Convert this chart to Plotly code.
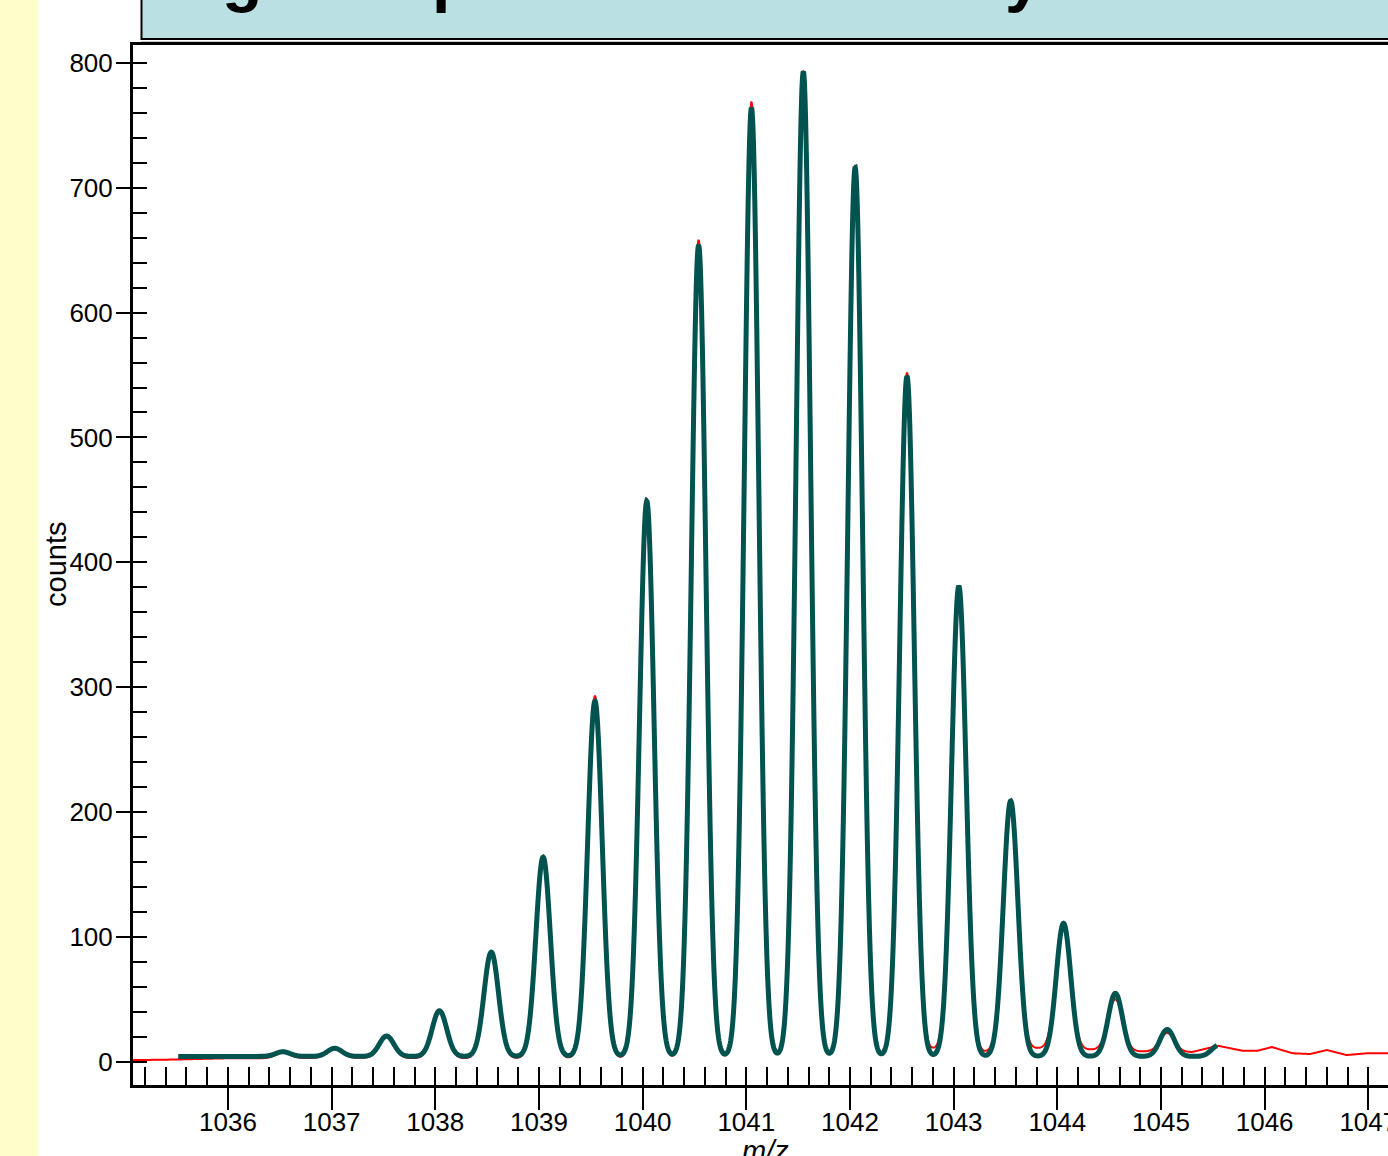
import numpy as np
import plotly.graph_objects as go

# ---------------- data ----------------
# isotope peak centres (m/z) of the charge-2 envelope
peak_mz = [1036.53, 1037.03, 1037.53, 1038.04, 1038.54, 1039.04, 1039.54,
           1040.04, 1040.54, 1041.05, 1041.55, 1042.05, 1042.55, 1043.05,
           1043.55, 1044.06, 1044.56, 1045.06, 1045.56]
# fitted (teal) peak heights above the fit baseline
fit_heights = [3.7, 6.5, 16.3, 36.5, 83.5, 159.5, 284.5, 444.5, 649.5, 759.5,
               788.5, 711.5, 544.5, 376.5, 204.5, 106.5, 50.5, 21.5, 9.0]
fit_baseline = 4.5
fit_range = [1035.52, 1045.54]
# measured (red) peak heights above the local baseline (last peak is in the tail)
data_heights = [4.5, 7.0, 17.0, 38.0, 85.0, 161.0, 290.0, 448.0, 655.0, 765.0,
                790.0, 714.0, 545.0, 372.0, 199.0, 100.0, 41.0, 15.0, 0.0]
# measured baseline / noise read at these m/z values
base_mz = [1035.08, 1035.5, 1036.0, 1036.5, 1037.0, 1038.0, 1039.0, 1040.0,
           1041.0, 1042.0, 1042.4, 1042.8, 1043.3, 1043.8, 1044.3, 1044.8,
           1045.3, 1045.55, 1045.79, 1045.93, 1046.07, 1046.27, 1046.44,
           1046.60, 1046.79, 1046.99, 1047.19]
base_counts = [1.5, 2.0, 3.0, 3.0, 3.5, 3.0, 3.0, 3.0, 3.5, 4.0, 5.0, 10.0,
               8.0, 11.0, 10.0, 8.5, 8.0, 13.0, 9.0, 9.0, 12.0, 7.0, 6.4,
               9.6, 5.6, 7.0, 7.0]
peak_sigma = 0.07

x_ticks = [1036, 1037, 1038, 1039, 1040, 1041, 1042, 1043, 1044, 1045, 1046, 1047]
y_ticks = [0, 100, 200, 300, 400, 500, 600, 700, 800]

# ---------------- profiles ----------------
def profile(x, heights):
    y = np.zeros_like(x)
    for c, h in zip(peak_mz, heights):
        y += h * np.exp(-0.5 * ((x - c) / peak_sigma) ** 2)
    return y

x_data = np.linspace(base_mz[0], base_mz[-1], 3000)
y_data = profile(x_data, data_heights) + np.interp(x_data, base_mz, base_counts)

x_fit = np.linspace(fit_range[0], fit_range[1], 2500)
y_fit = profile(x_fit, fit_heights) + fit_baseline

# ---------------- layout geometry (pixels) ----------------
FW, FH = 1388, 1156
L, T, B = 133, 45, 71
PW, PH = FW - L, FH - T - B
XR = [1035.084, 1047.19]
YR = [-18.4, 814.2]

def pxx(px):
    return (px - L) / PW

def pxy(py):
    return (FH - B - py) / PH

tick_font = dict(family="Liberation Sans Narrow, Arial Narrow, Liberation Sans, Arial, sans-serif",
                 size=26, color="black")
title_font = dict(family="Liberation Sans, Arial, sans-serif", size=29, color="black")

fig = go.Figure()
fig.add_trace(go.Scatter(x=x_data, y=y_data, mode="lines",
                         line=dict(color="#ff0000", width=2, simplify=False),
                         hoverinfo="skip"))
fig.add_trace(go.Scatter(x=x_fit, y=y_fit, mode="lines",
                         line=dict(color="#00534f", width=5, simplify=False),
                         hoverinfo="skip"))
# dummy trace to activate the overlay axes (inner major ticks)
fig.add_trace(go.Scatter(x=[XR[0]], y=[YR[0]], xaxis="x2", yaxis="y2",
                         mode="markers", marker=dict(opacity=0), hoverinfo="skip"))

fig.update_layout(
    width=FW, height=FH, autosize=False,
    margin=dict(l=L, r=0, t=T, b=B, pad=0, autoexpand=False),
    paper_bgcolor="white", plot_bgcolor="white",
    showlegend=False, hovermode=False,
    xaxis=dict(range=XR, showgrid=False, zeroline=False, automargin=False,
               showline=True, linewidth=3, linecolor="black", mirror=True,
               ticks="outside", ticklen=22, tickwidth=2, tickcolor="black",
               tickvals=x_ticks, ticktext=[str(v) for v in x_ticks],
               tickfont=tick_font, ticklabelstandoff=-10,
               ticklabeloverflow="allow",
               minor=dict(ticks="inside", ticklen=18, tickwidth=2,
                          tickcolor="black", dtick=0.2, tick0=1036)),
    yaxis=dict(range=YR, showgrid=False, zeroline=False, automargin=False,
               showline=True, linewidth=3, linecolor="black",
               ticks="outside", ticklen=14, tickwidth=2, tickcolor="black",
               tickvals=y_ticks, ticktext=[str(v) for v in y_ticks],
               tickfont=tick_font, ticklabelstandoff=-2,
               minor=dict(ticks="inside", ticklen=14, tickwidth=2,
                          tickcolor="black", dtick=20, tick0=0)),
    xaxis2=dict(range=XR, overlaying="x", anchor="y2", side="bottom",
                showgrid=False, zeroline=False, showline=False, automargin=False,
                ticks="inside", ticklen=18, tickwidth=2, tickcolor="black",
                tickvals=x_ticks, showticklabels=False),
    yaxis2=dict(range=YR, overlaying="y", anchor="x2", side="left",
                showgrid=False, zeroline=False, showline=False, automargin=False,
                ticks="inside", ticklen=14, tickwidth=2, tickcolor="black",
                tickvals=y_ticks, showticklabels=False),
)

shapes = [
    dict(type="rect", xref="paper", yref="paper",
         x0=pxx(-5), x1=pxx(38), y0=pxy(FH + 5), y1=pxy(-5),
         fillcolor="#ffffcc", line=dict(width=0), layer="below"),
    dict(type="rect", xref="paper", yref="paper",
         x0=pxx(141.5), x1=pxx(FW + 30), y0=pxy(39), y1=pxy(-30),
         fillcolor="#bbe0e3", line=dict(color="black", width=2), layer="below"),
    dict(type="line", xref="paper", yref="paper",
         x0=pxx(141), x1=pxx(FW + 5), y0=pxy(41.5), y1=pxy(41.5),
         line=dict(color="#c8c8c8", width=1)),
]
fig.update_layout(shapes=shapes)

bold = dict(family="Liberation Sans, Arial, sans-serif", size=66, color="black")
annotations = [
    dict(text="counts", xref="paper", yref="paper", x=pxx(56), y=pxy(565),
         xanchor="center", yanchor="middle", textangle=-90, showarrow=False,
         font=title_font),
    dict(text="<i>m/z</i>", xref="paper", yref="paper", x=pxx(765), y=pxy(1151),
         xanchor="center", yanchor="middle", showarrow=False, font=title_font),
    dict(text="<b>g</b>", xref="paper", yref="paper", x=pxx(242), y=pxy(-24),
         xanchor="center", yanchor="middle", showarrow=False, font=bold),
    dict(text="<b>p</b>", xref="paper", yref="paper", x=pxx(452), y=pxy(-24),
         xanchor="center", yanchor="middle", showarrow=False, font=bold),
    dict(text="<b>y</b>", xref="paper", yref="paper", x=pxx(1023), y=pxy(-24),
         xanchor="center", yanchor="middle", showarrow=False, font=bold),
]
fig.update_layout(annotations=annotations)

fig.write_html("out.html", config={"displayModeBar": False},
               post_script="document.body.style.margin='0px';"
                           "document.body.style.overflow='hidden';")
